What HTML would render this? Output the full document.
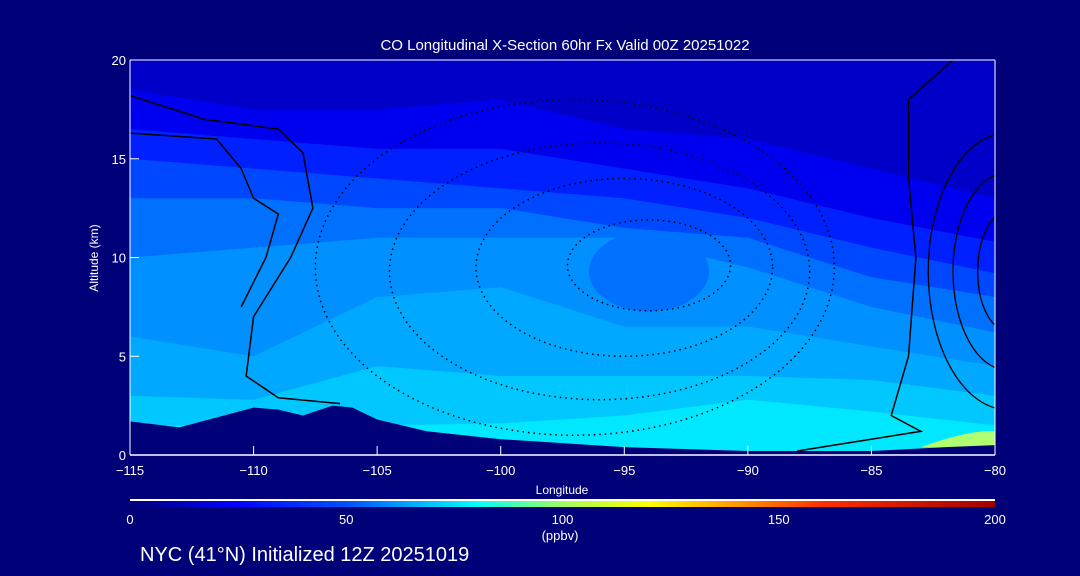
<!DOCTYPE html>
<html><head><meta charset="utf-8"><style>
body{margin:0;background:#000078;width:1080px;height:576px;overflow:hidden;font-family:"Liberation Sans",sans-serif}
svg{display:block}
svg text{fill:#fff;font-family:"Liberation Sans",sans-serif}
</style></head><body>
<svg id="c" width="1080" height="576">
<rect width="1080" height="576" fill="#000078"/>
<text x="565" y="50" font-size="15" text-anchor="middle">CO Longitudinal X-Section 60hr  Fx Valid 00Z 20251022</text>
<g id="plot"></g>
<g id="axes"></g>
<text x="98" y="258" font-size="12" text-anchor="middle" transform="rotate(-90 98 258)">Altitude (km)</text>
<text x="562" y="494" font-size="12" text-anchor="middle">Longitude</text>
<defs><linearGradient id="cg" x1="0" x2="1">
<stop offset="0" stop-color="#000078"/><stop offset="0.12" stop-color="#0000ff"/><stop offset="0.25" stop-color="#0050ff"/><stop offset="0.4" stop-color="#00ffff"/><stop offset="0.5" stop-color="#a0ff60"/><stop offset="0.6" stop-color="#ffff00"/><stop offset="0.8" stop-color="#ff3000"/><stop offset="1" stop-color="#a00000"/></linearGradient></defs>
<line x1="130" y1="500" x2="995" y2="500" stroke="#fff" stroke-width="2"/>
<rect x="130" y="501" width="865" height="6" fill="url(#cg)"/>
<g id="cb"></g>
<text x="560" y="540" font-size="13" text-anchor="middle">(ppbv)</text>
<text x="140" y="561" font-size="20">NYC (41°N) Initialized 12Z 20251019</text>
</svg>
<script>
const lons=[-115,-110,-105,-100,-95,-90,-85,-80];
const bandColors=["#0000f0","#0020ff","#0048ff","#0070ff","#0090ff","#00a8ff","#00c8ff","#00e8ff"];
const bandTops=[
[18.5,17.5,17.5,18,16.5,16,14.5,13],
[16.5,16,15.5,15.5,14.5,13.5,12,10.8],
[15,14.5,14,13.5,13,12,10.5,9.2],
[13,13,12.5,12.5,11.5,11,9,8],
[10,10.5,11,11,11,9.5,7.5,6.2],
[6,5,8,8.5,6.5,6.5,5.5,4.5],
[3,2.8,4.5,4,4,4,3.8,3],
[1.5,1.5,1.5,1.6,2,2.8,2.2,1.5]];
const terrainLon=[-115,-113,-111.5,-110,-109,-108,-106.8,-106,-105,-103,-100,-95,-90,-85,-82,-80];
const terrainAlt=[1.7,1.4,1.9,2.4,2.3,2.0,2.5,2.4,1.8,1.2,0.8,0.4,0.2,0.2,0.4,0.5];
const xTicks=[-115,-110,-105,-100,-95,-90,-85,-80];
const yTicks=[0,5,10,15,20];
const cbTicks=[0,50,100,150,200];
const negLevels=[-10,-20,-30,-40];
const negLon=[-97,-96,-95,-94];
const negAlt=[9.5,9.3,9.5,9.6];
const negRx=[10.5,8.5,6,3.3], negRy=[8.5,6.5,4.5,2.3];
const posRx=[3.2,2.2,1.2], posRy=[7,5,3];
const X=l=>130+(l+115)/35*865, Y=a=>455-a*19.75;
const NS="http://www.w3.org/2000/svg";
const plot=document.getElementById('plot'),axes=document.getElementById('axes');
function mk(t,at,p){const e=document.createElementNS(NS,t);for(const k in at)e.setAttribute(k,at[k]);p.appendChild(e);return e;}
const topBand=mk('rect',{x:130,y:60,width:865,height:395,fill:'#0000c8'},plot);


bandTops.forEach((b,i)=>{let d='M'+X(-115)+','+Y(0);b.forEach((a,j)=>d+=' L'+X(lons[j])+','+Y(a));d+=' L'+X(-80)+','+Y(0)+'Z';
const p=mk('path',{d,fill:bandColors[i]},plot);


if(i==4){const pk=mk('ellipse',{cx:X(-94),cy:Y(9.3),rx:60,ry:40,fill:'#0070ff'},plot);

}});
const gr=mk('path',{d:`M${X(-83)},${Y(0.4)} Q${X(-81)},${Y(1.3)} ${X(-80)},${Y(1.2)} L${X(-80)},${Y(0.3)}Z`,fill:'#b0ff70'},plot);


let td='M'+X(-115)+','+Y(0);terrainLon.forEach((l,i)=>td+=' L'+X(l)+','+Y(terrainAlt[i]));td+=' L'+X(-80)+','+Y(0)+'Z';
const tr=mk('path',{d:td,fill:'#000078'},plot);


const cp=mk('clipPath',{id:'cp'},plot);mk('rect',{x:130,y:60,width:865,height:395},cp);
const cg=mk('g',{'clip-path':'url(#cp)'},plot);
negLevels.forEach((v,i)=>{const e=mk('ellipse',{cx:X(negLon[i]),cy:Y(negAlt[i]),rx:negRx[i]/35*865,ry:negRy[i]*19.75,fill:'none',stroke:'#000','stroke-width':1.5,'stroke-dasharray':'1.5 4'},cg);

});
posRx.forEach((r,i)=>{const e=mk('ellipse',{cx:X(-79.5),cy:Y(9.3),rx:r/35*865,ry:posRy[i]*19.75,fill:'none',stroke:'#000','stroke-width':1.3},cg);

});
const z1=mk('path',{d:`M${X(-115)},${Y(18.2)} L${X(-112)},${Y(17)} L${X(-109)},${Y(16.5)} L${X(-108)},${Y(15.3)} L${X(-107.6)},${Y(12.5)} L${X(-108.5)},${Y(10)} L${X(-110)},${Y(7)} L${X(-110.3)},${Y(4)} L${X(-109)},${Y(2.9)} L${X(-106.5)},${Y(2.6)}`,fill:'none',stroke:'#000','stroke-width':1.5},cg);


const z2=mk('path',{d:`M${X(-115)},${Y(16.3)} L${X(-111.5)},${Y(16)} L${X(-110.5)},${Y(14.5)} L${X(-110)},${Y(13)} L${X(-109)},${Y(12.2)} L${X(-109.5)},${Y(10)} L${X(-110.5)},${Y(7.5)}`,fill:'none',stroke:'#000','stroke-width':1.5},cg);


const z3=mk('path',{d:`M${X(-81.7)},${Y(20)} L${X(-83.5)},${Y(18)} L${X(-83.5)},${Y(14)} L${X(-83.2)},${Y(10)} L${X(-83.5)},${Y(5)} L${X(-84.2)},${Y(2)} L${X(-83)},${Y(1.2)} L${X(-86)},${Y(0.6)} L${X(-88)},${Y(0.2)}`,fill:'none',stroke:'#000','stroke-width':1.5},cg);


mk('line',{x1:130,y1:60,x2:995,y2:60,stroke:'#fff'},axes);
mk('line',{x1:130,y1:455,x2:995,y2:455,stroke:'#fff','stroke-width':1.5},axes);
mk('line',{x1:130,y1:60,x2:130,y2:455,stroke:'#fff'},axes);
mk('line',{x1:995,y1:60,x2:995,y2:455,stroke:'#fff'},axes);
xTicks.forEach(l=>{mk('line',{x1:X(l),y1:455,x2:X(l),y2:446,stroke:'#fff'},axes);
const t=mk('text',{x:X(l),y:475,'font-size':13,'text-anchor':'middle'},axes);t.textContent='\u2212'+(-l);

});
yTicks.forEach(a=>{mk('line',{x1:130,y1:Y(a),x2:139,y2:Y(a),stroke:'#fff'},axes);
const t=mk('text',{x:126,y:Y(a)+5,'font-size':13,'text-anchor':'end'},axes);t.textContent=a;

});
const cb=document.getElementById('cb');
cbTicks.forEach(v=>{const t=mk('text',{x:130+v/200*865,y:524,'font-size':13,'text-anchor':'middle'},cb);t.textContent=v;

});
</script>
</body></html>
